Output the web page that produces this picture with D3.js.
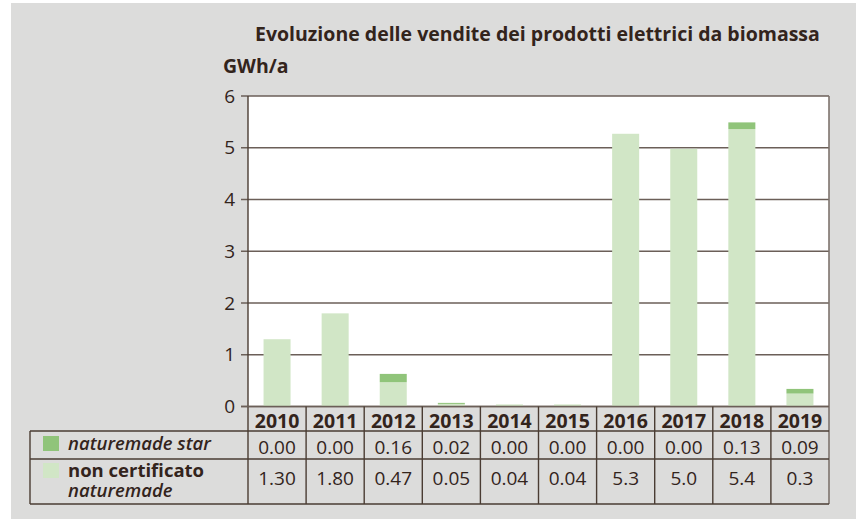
<!DOCTYPE html>
<html lang="it">
<head>
<meta charset="UTF-8">
<title>Evoluzione delle vendite dei prodotti elettrici da biomassa</title>
<script src="https://d3js.org/d3.v7.min.js"></script>
<style>
    body { margin: 0; background: #fff; }
    svg { display: block; font-family: "Open Sans", sans-serif; }
</style>
</head>
<body>
<div id="chart"></div>
<script>
// data
const years = ["2010", "2011", "2012", "2013", "2014", "2015", "2016", "2017", "2018", "2019"];
const starValues = [0.00, 0.00, 0.16, 0.02, 0.00, 0.00, 0.00, 0.00, 0.13, 0.09];
const nonCertValues = [1.30, 1.80, 0.47, 0.05, 0.04, 0.04, 5.27, 4.98, 5.36, 0.25];
const starLabels = ["0.00", "0.00", "0.16", "0.02", "0.00", "0.00", "0.00", "0.00", "0.13", "0.09"];
const nonCertLabels = ["1.30", "1.80", "0.47", "0.05", "0.04", "0.04", "5.3", "5.0", "5.4", "0.3"];
const yTicks = [0, 1, 2, 3, 4, 5, 6];

const width = 856, height = 519;
const ink = "#33241c";
const lineCol = "#6b5f58";
const darkGreen = "#90c47a";
const lightGreen = "#d1e6c6";

const plotLeft = 248, plotRight = 829, plotTop = 96, zero = 406.5;
const row1 = 431, row2 = 459, tableBottom = 504, tableLeft = 30;

const svg = d3.select("#chart").append("svg")
    .attr("width", width)
    .attr("height", height);

// grey page
svg.append("rect").attr("x", 11).attr("y", 3)
    .attr("width", width - 11).attr("height", height - 3)
    .attr("fill", "#dcdcdb");

const x = d3.scaleBand().domain(years).range([plotLeft, plotRight]);
const y = d3.scaleLinear().domain([0, 6]).range([zero, plotTop]);

// plot area
svg.append("rect").attr("x", plotLeft).attr("y", plotTop)
    .attr("width", plotRight - plotLeft).attr("height", zero - plotTop)
    .attr("fill", "#fff");

// gridlines + ticks
svg.append("g").selectAll("line")
    .data(yTicks)
    .join("line")
    .attr("x1", plotLeft - 7).attr("x2", plotRight)
    .attr("y1", d => y(d)).attr("y2", d => y(d))
    .attr("stroke", lineCol).attr("stroke-width", 1.4);

svg.append("g").selectAll("text")
    .data(yTicks)
    .join("text")
    .attr("x", plotLeft - 13)
    .attr("y", d => y(d) + 6.5)
    .attr("text-anchor", "end")
    .attr("fill", ink)
    .style("font-size", "19px")
    .text(d => d);

// stacked bars
const barW = x.bandwidth() * 0.465;
const bars = svg.append("g");
years.forEach((yr, i) => {
    const bx = x(yr) + (x.bandwidth() - barW) / 2;
    bars.append("rect")
        .attr("x", bx).attr("width", barW)
        .attr("y", y(nonCertValues[i]))
        .attr("height", y(0) - y(nonCertValues[i]))
        .attr("fill", lightGreen);
    if (starValues[i] > 0) {
        bars.append("rect")
            .attr("x", bx).attr("width", barW)
            .attr("y", y(nonCertValues[i] + starValues[i]))
            .attr("height", y(nonCertValues[i]) - y(nonCertValues[i] + starValues[i]))
            .attr("fill", darkGreen);
    }
});

// axis and frame
svg.append("line").attr("x1", plotLeft).attr("x2", plotLeft)
    .attr("y1", plotTop).attr("y2", tableBottom)
    .attr("stroke", "#4a3c33").attr("stroke-width", 1.4);
svg.append("line").attr("x1", plotRight).attr("x2", plotRight)
    .attr("y1", plotTop).attr("y2", tableBottom)
    .attr("stroke", "#7d736d").attr("stroke-width", 1.6);
svg.append("line").attr("x1", plotLeft - 7).attr("x2", plotRight)
    .attr("y1", zero).attr("y2", zero)
    .attr("stroke", lineCol).attr("stroke-width", 1.6);

// table lines
const table = svg.append("g").attr("stroke", "#4a3c33").attr("stroke-width", 1.4);
[row1, row2, tableBottom].forEach(ry => {
    table.append("line").attr("x1", tableLeft).attr("x2", plotRight)
        .attr("y1", ry).attr("y2", ry);
});
table.append("line").attr("x1", tableLeft).attr("x2", tableLeft)
    .attr("y1", row1).attr("y2", tableBottom);
table.selectAll(".sep")
    .data(years.slice(1))
    .join("line")
    .attr("x1", d => x(d)).attr("x2", d => x(d))
    .attr("y1", zero).attr("y2", tableBottom);

// table text
const cx = d => x(d) + x.bandwidth() / 2;
svg.append("g").selectAll("text")
    .data(years)
    .join("text")
    .attr("x", cx).attr("y", 427.5)
    .attr("text-anchor", "middle")
    .attr("fill", ink)
    .style("font-size", "19.5px").style("font-weight", 700)
    .text(d => d);

svg.append("g").selectAll("text")
    .data(starLabels)
    .join("text")
    .attr("x", (d, i) => cx(years[i])).attr("y", 453.5)
    .attr("text-anchor", "middle")
    .attr("fill", ink)
    .style("font-size", "19px")
    .text(d => d);

svg.append("g").selectAll("text")
    .data(nonCertLabels)
    .join("text")
    .attr("x", (d, i) => cx(years[i])).attr("y", 485)
    .attr("text-anchor", "middle")
    .attr("fill", ink)
    .style("font-size", "19px")
    .text(d => d);

// legend cells
svg.append("rect").attr("x", 43).attr("y", 436).attr("width", 16).attr("height", 15).attr("fill", darkGreen);
svg.append("rect").attr("x", 43).attr("y", 463).attr("width", 16).attr("height", 15).attr("fill", lightGreen);

svg.append("text").attr("x", 68).attr("y", 449.5)
    .attr("fill", ink)
    .style("font-size", "18.5px").style("font-weight", 600).style("font-style", "italic")
    .text("naturemade star");
const legend2 = svg.append("text").attr("fill", ink).style("font-size", "18.5px");
legend2.append("tspan").attr("x", 68).attr("y", 477)
    .style("font-weight", 700)
    .text("non certificato");
legend2.append("tspan").attr("x", 68).attr("y", 497)
    .style("font-weight", 600).style("font-style", "italic")
    .text("naturemade");

// titles
svg.append("text").attr("x", 255).attr("y", 41)
    .attr("fill", ink)
    .style("font-size", "19.5px").style("font-weight", 700)
    .text("Evoluzione delle vendite dei prodotti elettrici da biomassa");
svg.append("text").attr("x", 223).attr("y", 73)
    .attr("fill", ink)
    .style("font-size", "19.5px").style("font-weight", 700)
    .text("GWh/a");
</script>
</body>
</html>
